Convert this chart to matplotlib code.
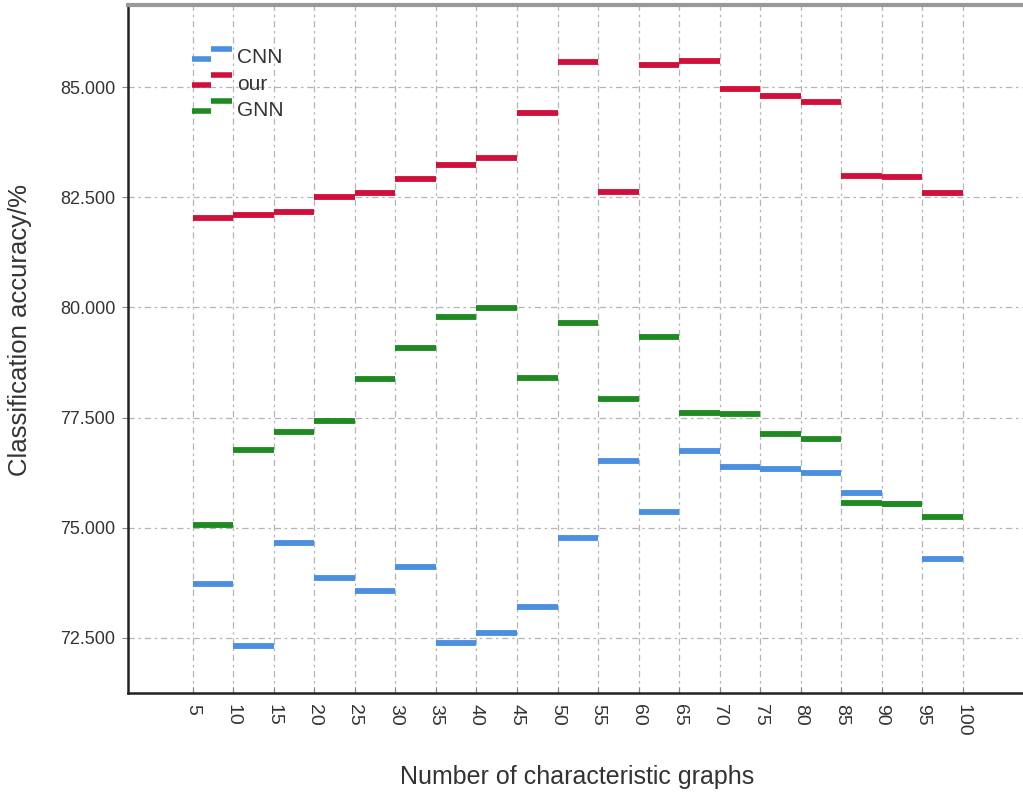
import matplotlib
matplotlib.use('Agg')
import matplotlib.pyplot as plt
from matplotlib.lines import Line2D
from matplotlib.legend_handler import HandlerBase

plt.rcParams['font.family'] = ['Liberation Sans', 'DejaVu Sans']

# number of characteristic graphs (tick labels); each value spans one interval
graphs = [5, 10, 15, 20, 25, 30, 35, 40, 45, 50, 55, 60, 65, 70, 75, 80, 85, 90, 95, 100]
cnn = [73.73, 72.32, 74.66, 73.87, 73.57, 74.12, 72.39, 72.62, 73.21, 74.77,
       76.52, 75.36, 76.75, 76.38, 76.34, 76.25, 75.79, 75.55, 74.30]
our = [82.03, 82.10, 82.17, 82.50, 82.60, 82.91, 83.23, 83.39, 84.41, 85.57,
       82.62, 85.50, 85.59, 84.95, 84.80, 84.66, 82.98, 82.96, 82.60]
gnn = [75.07, 76.77, 77.18, 77.43, 78.38, 79.08, 79.78, 79.99, 78.40, 79.65,
       77.93, 79.33, 77.61, 77.58, 77.13, 77.02, 75.57, 75.54, 75.25]
yticks = [72.5, 75.0, 77.5, 80.0, 82.5, 85.0]

c_cnn = '#4a8fe0'
c_our = '#d0103a'
c_gnn = '#1f8a22'


class StepHandler(HandlerBase):
    def create_artists(self, legend, orig_handle, xdescent, ydescent,
                       width, height, fontsize, trans):
        c = orig_handle.get_color()
        lw = orig_handle.get_linewidth()
        l1 = Line2D([-xdescent, -xdescent + width * 0.48], [height * 0.3] * 2,
                    color=c, lw=lw, solid_capstyle='butt', transform=trans)
        l2 = Line2D([-xdescent + width * 0.48, -xdescent + width], [height * 1.0] * 2,
                    color=c, lw=lw, solid_capstyle='butt', transform=trans)
        return [l1, l2]


fig = plt.figure(figsize=(10.23, 7.93), dpi=100)
ax = fig.add_axes([0.125, 0.126, 0.878, 0.868])

lw = 4.2
ax.hlines(cnn, graphs[:-1], graphs[1:], colors=c_cnn, lw=lw, zorder=3)
ax.hlines(our, graphs[:-1], graphs[1:], colors=c_our, lw=lw, zorder=3)
ax.hlines(gnn, graphs[:-1], graphs[1:], colors=c_gnn, lw=lw, zorder=4)

ax.set_xlim(-3.0, 107.8)
ax.set_ylim(71.25, 86.87)
ax.set_xticks(graphs)
ax.set_xticklabels([str(g) for g in graphs], rotation=270, fontsize=14, color='#333333')
ax.set_yticks(yticks)
ax.set_yticklabels(['%.3f' % v for v in yticks], fontsize=13, color='#333333')
ax.tick_params(axis='y', direction='out', length=4, width=0.8, color='#888888', pad=5)
ax.tick_params(axis='x', direction='in', length=4, width=0.8, color='#888888', pad=8)

ax.grid(True, color='#b5b5b5', lw=0.9, linestyle=(0, (5, 3, 2, 3)), zorder=0)
ax.set_axisbelow(True)

ax.spines['right'].set_visible(False)
ax.spines['top'].set_color('#999999')
ax.spines['top'].set_linewidth(3)
ax.spines['left'].set_linewidth(1.8)
ax.spines['bottom'].set_linewidth(1.8)
ax.spines['left'].set_color('#222222')
ax.spines['bottom'].set_color('#222222')

ax.set_xlabel('Number of characteristic graphs', fontsize=18, color='#333333', labelpad=20)
ax.set_ylabel('Classification accuracy/%', fontsize=18.5, color='#333333')
ax.yaxis.set_label_coords(-0.107, 0.528)

handles = [Line2D([], [], color=c, lw=4) for c in (c_cnn, c_our, c_gnn)]
ax.legend(handles, ['CNN', 'our', 'GNN'], handler_map={Line2D: StepHandler()},
          loc='upper left', bbox_to_anchor=(0.051, 0.964), frameon=False,
          fontsize=15, handlelength=1.9, handletextpad=0.25, labelspacing=0.35,
          labelcolor='#333333')

fig.savefig('out.png', dpi=100)
